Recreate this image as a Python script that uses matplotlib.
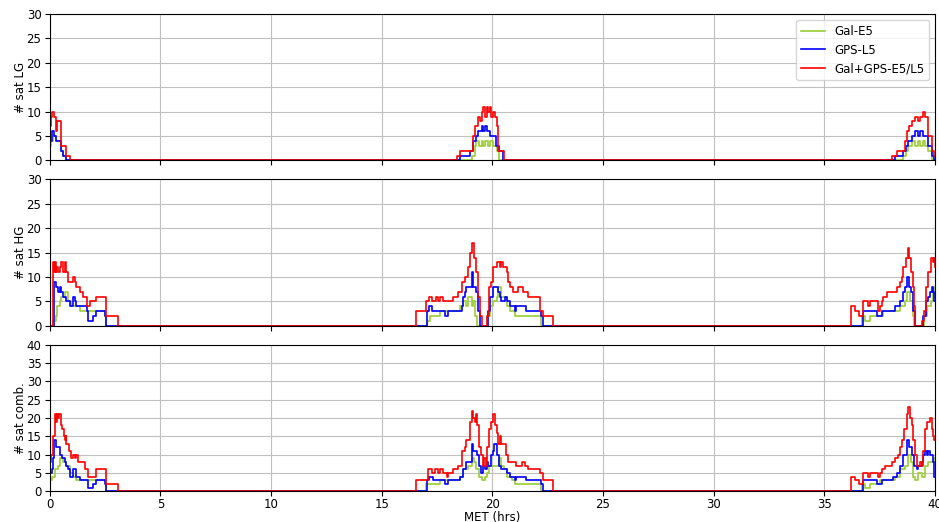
import numpy as np
import matplotlib
matplotlib.use("Agg")
import matplotlib.pyplot as plt

plt.rcParams["font.size"] = 8.5
plt.rcParams["xtick.major.pad"] = 1.5
plt.rcParams["ytick.major.pad"] = 2.5

# step breakpoints (MET hrs, number of satellites)
lg_gal = [(0, 3), (0.07, 4), (0.15, 5), (0.3, 4), (0.5, 2), (0.6, 1), (0.75, 0),
          (19.06, 1), (19.21, 3), (19.28, 4), (19.40, 3), (19.51, 4), (19.59, 3), (19.66, 4),
          (19.81, 3), (19.89, 4), (20.04, 3), (20.19, 2), (20.28, 0),
          (38.57, 1), (38.69, 2), (38.80, 3), (38.95, 4), (39.10, 3), (39.25, 4), (39.32, 3),
          (39.47, 4), (39.55, 3), (39.70, 2), (39.85, 0)]
lg_gps = [(0, 4), (0.1, 6), (0.18, 5), (0.27, 4), (0.5, 2), (0.62, 1), (0.75, 0),
          (18.53, 1), (19.01, 2), (19.13, 4), (19.25, 5), (19.36, 6), (19.51, 7), (19.59, 6),
          (19.66, 7), (19.74, 6), (19.89, 5), (20.16, 3), (20.28, 2), (20.49, 0),
          (38.19, 1), (38.57, 2), (38.69, 3), (38.80, 4), (38.95, 5), (39.10, 6), (39.25, 5),
          (39.32, 6), (39.47, 5), (39.70, 3), (39.85, 1), (39.95, 0)]
lg_all = [(0, 7), (0.05, 9), (0.11, 10), (0.2, 9), (0.27, 6), (0.33, 8), (0.53, 3), (0.72, 1), (0.93, 0),
          (18.38, 1), (18.56, 2), (19.13, 5), (19.21, 7), (19.36, 9), (19.44, 8), (19.51, 10),
          (19.59, 11), (19.66, 9), (19.74, 11), (19.81, 10), (19.89, 11), (19.96, 9), (20.04, 10),
          (20.11, 9), (20.19, 7), (20.26, 2), (20.53, 0),
          (38.04, 1), (38.27, 2), (38.64, 4), (38.72, 6), (38.84, 7), (38.95, 8), (39.10, 9),
          (39.25, 8), (39.32, 9), (39.44, 10), (39.55, 9), (39.70, 5), (39.85, 2), (39.95, 1)]

hg_gal = [(0.15, 1), (0.26, 2), (0.33, 4), (0.45, 5), (0.53, 6), (0.68, 7), (0.83, 5), (0.98, 4),
          (1.36, 3), (2.49, 2), (2.56, 0),
          (17.05, 1), (17.18, 2), (17.63, 3), (18.53, 4), (18.68, 5), (18.83, 4), (18.91, 6),
          (19.06, 4), (19.13, 5), (19.21, 2), (19.31, 0), (19.77, 2), (19.89, 4), (20.04, 5),
          (20.19, 6), (20.26, 8), (20.41, 6), (20.64, 4), (20.79, 3), (21.02, 2), (22.22, 0),
          (36.69, 2), (36.84, 1), (37.06, 2), (37.66, 3), (38.42, 4), (38.64, 5), (38.75, 7),
          (38.87, 5), (38.99, 2), (39.07, 0), (39.50, 2), (39.62, 4), (39.80, 5), (39.92, 8), (39.97, 6)]
hg_gps = [(0.18, 9), (0.30, 8), (0.38, 7), (0.45, 8), (0.53, 7), (0.60, 6), (0.75, 5), (0.90, 4),
          (1.05, 6), (1.13, 5), (1.20, 4), (1.66, 3), (1.73, 1), (1.96, 2), (2.11, 3), (2.49, 2), (2.56, 0),
          (17.05, 3), (17.15, 4), (17.25, 3), (17.85, 2), (18.00, 3), (18.61, 4), (18.68, 6),
          (18.76, 7), (18.83, 8), (19.06, 11), (19.13, 8), (19.25, 7), (19.36, 3), (19.44, 0),
          (19.81, 3), (19.89, 6), (20.04, 8), (20.26, 7), (20.34, 6), (20.41, 5), (20.56, 6),
          (20.64, 5), (20.79, 4), (21.02, 3), (21.09, 4), (21.54, 3), (22.22, 2), (22.30, 0),
          (36.73, 3), (37.39, 2), (37.59, 3), (38.19, 4), (38.42, 5), (38.57, 7), (38.64, 8),
          (38.72, 10), (38.84, 8), (38.92, 7), (38.99, 3), (39.10, 0), (39.47, 2), (39.59, 5),
          (39.70, 6), (39.77, 7), (39.85, 8), (39.92, 7), (39.97, 5)]
hg_all = [(0.15, 13), (0.20, 11), (0.23, 13), (0.27, 11), (0.30, 12), (0.38, 11), (0.45, 12),
          (0.53, 13), (0.60, 11), (0.68, 13), (0.75, 11), (0.83, 9), (1.05, 10), (1.13, 9),
          (1.20, 8), (1.36, 7), (1.51, 6), (1.66, 4), (1.81, 5), (2.11, 6), (2.53, 2), (3.09, 0),
          (16.54, 3), (17.02, 5), (17.15, 6), (17.25, 5), (17.45, 6), (17.55, 5), (17.63, 6),
          (17.78, 5), (18.23, 6), (18.46, 7), (18.61, 9), (18.76, 10), (18.91, 12), (19.01, 15),
          (19.09, 17), (19.16, 14), (19.25, 11), (19.36, 6), (19.44, 2), (19.51, 0), (19.77, 2),
          (19.86, 8), (19.92, 9), (20.01, 12), (20.19, 13), (20.34, 12), (20.41, 13), (20.49, 12),
          (20.64, 11), (20.72, 9), (20.79, 8), (20.94, 7), (21.17, 8), (21.39, 7), (21.62, 6),
          (22.15, 3), (22.27, 2), (22.75, 0),
          (36.19, 4), (36.38, 3), (36.58, 2), (36.73, 5), (36.99, 4), (37.06, 5), (37.44, 3),
          (37.51, 4), (37.59, 5), (37.66, 6), (37.82, 7), (38.27, 8), (38.42, 9), (38.49, 10),
          (38.57, 12), (38.69, 14), (38.76, 16), (38.84, 14), (38.92, 11), (38.99, 8), (39.05, 4),
          (39.11, 0), (39.40, 1), (39.50, 3), (39.59, 8), (39.70, 11), (39.80, 14), (39.89, 13),
          (39.95, 14), (39.98, 12)]

cb_gal = [(0, 3), (0.12, 4), (0.23, 6), (0.38, 7), (0.45, 9), (0.60, 8), (0.75, 7), (0.90, 5),
          (1.05, 4), (1.20, 3), (2.56, 0),
          (17.02, 2), (17.63, 3), (18.53, 4), (18.68, 6), (18.91, 7), (19.06, 9), (19.16, 8),
          (19.25, 6), (19.39, 4), (19.51, 3), (19.66, 4), (19.77, 5), (19.86, 7), (20.31, 9),
          (20.41, 7), (20.52, 6), (20.64, 4), (20.87, 3), (21.02, 2), (22.22, 0),
          (36.69, 2), (36.84, 1), (37.06, 2), (37.51, 3), (38.19, 4), (38.42, 6), (38.64, 7),
          (38.79, 10), (38.90, 8), (39.02, 4), (39.10, 3), (39.25, 5), (39.40, 4), (39.55, 7),
          (39.70, 8), (39.97, 9)]
cb_gps = [(0, 5), (0.10, 6), (0.15, 9), (0.20, 14), (0.30, 12), (0.48, 10), (0.57, 9), (0.68, 8),
          (0.75, 7), (0.83, 6), (0.90, 4), (1.05, 6), (1.20, 4), (1.36, 3), (1.73, 1), (1.96, 2),
          (2.11, 3), (2.49, 2), (2.56, 0),
          (17.05, 3), (17.15, 4), (17.33, 3), (17.85, 2), (18.00, 3), (18.53, 4), (18.68, 6),
          (18.83, 8), (19.06, 13), (19.13, 11), (19.31, 10), (19.39, 7), (19.48, 5), (19.56, 7),
          (19.66, 6), (19.74, 8), (19.81, 7), (19.92, 10), (20.01, 11), (20.08, 13), (20.19, 10),
          (20.31, 7), (20.41, 6), (20.64, 5), (20.79, 4), (21.02, 3), (21.09, 4), (21.54, 3),
          (22.22, 2), (22.30, 0),
          (36.73, 3), (37.39, 2), (37.59, 3), (38.12, 4), (38.27, 5), (38.42, 7), (38.57, 10),
          (38.72, 14), (38.84, 12), (38.95, 10), (39.05, 7), (39.17, 6), (39.25, 7), (39.40, 8),
          (39.47, 10), (39.55, 11), (39.62, 10), (39.70, 11), (39.77, 10), (39.89, 8), (39.97, 4)]
cb_all = [(0, 8), (0.075, 10), (0.15, 15), (0.23, 21), (0.27, 19), (0.33, 21), (0.38, 20),
          (0.42, 21), (0.53, 18), (0.57, 17), (0.63, 15), (0.68, 14), (0.72, 15), (0.75, 13),
          (0.87, 11), (0.98, 9), (1.05, 10), (1.13, 9), (1.20, 10), (1.28, 8), (1.58, 6),
          (1.73, 4), (2.11, 6), (2.53, 2), (3.09, 0),
          (16.54, 3), (17.10, 6), (17.25, 5), (17.40, 6), (17.55, 5), (17.63, 6), (17.78, 5),
          (17.93, 4), (18.00, 5), (18.23, 6), (18.46, 7), (18.61, 11), (18.76, 12), (18.83, 14),
          (18.98, 19), (19.06, 22), (19.13, 20), (19.21, 19), (19.25, 21), (19.31, 18), (19.39, 12),
          (19.48, 10), (19.56, 7), (19.62, 9), (19.71, 7), (19.77, 12), (19.84, 17), (19.96, 19),
          (20.04, 21), (20.11, 18), (20.19, 16), (20.26, 13), (20.34, 15), (20.41, 13), (20.61, 10),
          (20.72, 8), (21.09, 7), (21.32, 8), (21.47, 7), (21.62, 6), (22.15, 5), (22.27, 3), (22.75, 0),
          (36.19, 4), (36.38, 3), (36.58, 2), (36.73, 5), (36.99, 4), (37.06, 5), (37.44, 4),
          (37.51, 5), (37.59, 6), (37.74, 7), (38.04, 8), (38.19, 9), (38.34, 10), (38.42, 12),
          (38.49, 14), (38.60, 17), (38.72, 21), (38.79, 23), (38.87, 20), (38.95, 18), (39.02, 14),
          (39.10, 10), (39.17, 7), (39.32, 8), (39.40, 7), (39.47, 11), (39.55, 17), (39.62, 19),
          (39.77, 20), (39.85, 17), (39.92, 15), (39.97, 14)]

panels = [
    ("# sat LG", 30, lg_gal, lg_gps, lg_all),
    ("# sat HG", 30, hg_gal, hg_gps, hg_all),
    ("# sat comb.", 40, cb_gal, cb_gps, cb_all),
]
labels = ["Gal-E5", "GPS-L5", "Gal+GPS-E5/L5"]
colors = ["yellowgreen", "blue", "red"]


def to_steps(pts):
    t = [p[0] for p in pts]
    v = [p[1] for p in pts]
    if t[0] > 0:
        t = [0] + t
        v = [0] + v
    t.append(40)
    v.append(v[-1])
    return np.array(t), np.array(v)


fig, axes = plt.subplots(3, 1, figsize=(9.39, 5.22), dpi=100, sharex=True)
fig.subplots_adjust(left=0.053, right=0.9957, top=0.973, bottom=0.059, hspace=0.13)

for ax, (ylab, ymax, gal, gps, both) in zip(axes, panels):
    for pts, c, lab in zip([gal, gps, both], colors, labels):
        t, v = to_steps(pts)
        ax.plot(t, v, drawstyle="steps-post", color=c, lw=1.2, label=lab)
    ax.set_ylim(0, ymax)
    ax.set_yticks(np.arange(0, ymax + 1, 5))
    ax.set_ylabel(ylab)
    ax.yaxis.set_label_coords(-0.026, 0.5)
    ax.grid(True, color="#c0c0c0")
    ax.set_axisbelow(True)

axes[0].legend(loc="upper right")
axes[-1].set_xlim(0, 40)
axes[-1].set_xticks(np.arange(0, 41, 5))
axes[-1].set_xlabel("MET (hrs)")
axes[-1].xaxis.set_label_coords(0.5, -0.132)

fig.savefig("out.png", dpi=100)
